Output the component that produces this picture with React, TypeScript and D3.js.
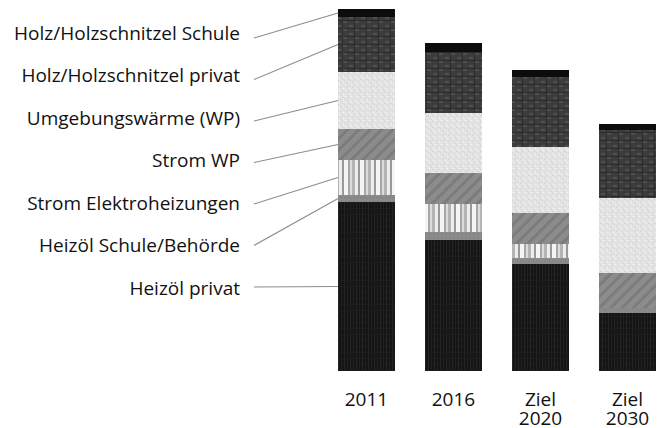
import { useEffect, useRef } from 'react';
import * as d3 from 'd3';

// Energieträger, von unten nach oben gestapelt
const categories = [
  'Heizöl privat',
  'Heizöl Schule/Behörde',
  'Strom Elektroheizungen',
  'Strom WP',
  'Umgebungswärme (WP)',
  'Holz/Holzschnitzel privat',
  'Holz/Holzschnitzel Schule',
];

const years = ['2011', '2016', 'Ziel 2020', 'Ziel 2030'];

const heizoelPrivat = [169, 131, 107, 58];
const heizoelSchule = [7, 8, 6, 5];
const stromElektro = [35, 28, 14, 0];
const stromWP = [31, 31, 31, 35];
const umgebung = [57, 60, 66, 75];
const holzPrivat = [55, 61, 70, 68];
const holzSchule = [8, 9, 7, 6];

const series = [heizoelPrivat, heizoelSchule, stromElektro, stromWP, umgebung, holzPrivat, holzSchule];
const patternIds = ['p-oel', 'p-oelschule', 'p-elektro', 'p-wp', 'p-umgebung', 'p-holz', 'p-holzschule'];

const W = 666;
const H = 428;
const FONT = '"Open Sans", "DejaVu Sans", sans-serif';

export default function App() {
  const svgRef = useRef<SVGSVGElement>(null);

  useEffect(() => {
    if (!svgRef.current) return;
    const svg = d3.select(svgRef.current);
    svg.selectAll('*').remove();

    const defs = svg.append('defs');

    // Heizöl privat: fast schwarz mit feinen senkrechten Linien
    const pOel = defs.append('pattern').attr('id', 'p-oel').attr('patternUnits', 'userSpaceOnUse')
      .attr('width', 6).attr('height', 6);
    pOel.append('rect').attr('width', 6).attr('height', 6).attr('fill', '#141414');
    pOel.append('rect').attr('x', 2).attr('width', 1).attr('height', 6).attr('fill', '#262626');
    pOel.append('rect').attr('x', 5).attr('width', 1).attr('height', 6).attr('fill', '#202020');
    pOel.append('rect').attr('y', 4).attr('width', 6).attr('height', 1).attr('fill', '#1d1d1d');

    const pOs = defs.append('pattern').attr('id', 'p-oelschule').attr('patternUnits', 'userSpaceOnUse')
      .attr('width', 4).attr('height', 4);
    pOs.append('rect').attr('width', 4).attr('height', 4).attr('fill', '#8a8a8a');
    pOs.append('rect').attr('x', 1).attr('y', 1).attr('width', 1).attr('height', 1).attr('fill', '#7a7a7a');

    // Strom Elektroheizungen: senkrechte Streifen
    const pEl = defs.append('pattern').attr('id', 'p-elektro').attr('patternUnits', 'userSpaceOnUse')
      .attr('width', 16).attr('height', 8);
    const stripes: [number, number, string][] = [
      [0, 3, '#b4b4b4'], [3, 3, '#ededed'], [6, 2, '#999999'], [8, 4, '#f5f5f5'], [12, 2, '#a8a8a8'], [14, 2, '#dcdcdc'],
    ];
    stripes.forEach(([x, w, c]) => {
      pEl.append('rect').attr('x', x).attr('width', w).attr('height', 8).attr('fill', c);
    });

    // Strom WP: mittelgrau, diagonal
    const pWp = defs.append('pattern').attr('id', 'p-wp').attr('patternUnits', 'userSpaceOnUse')
      .attr('width', 8).attr('height', 8).attr('patternTransform', 'rotate(45)');
    pWp.append('rect').attr('width', 8).attr('height', 8).attr('fill', '#8c8c8c');
    pWp.append('rect').attr('width', 3).attr('height', 8).attr('fill', '#7c7c7c');

    // Umgebungswärme: hellgrau gesprenkelt
    const pUm = defs.append('pattern').attr('id', 'p-umgebung').attr('patternUnits', 'userSpaceOnUse')
      .attr('width', 6).attr('height', 6);
    pUm.append('rect').attr('width', 6).attr('height', 6).attr('fill', '#e4e4e4');
    [[0, 1, '#c9c9c9'], [3, 0, '#f7f7f7'], [4, 3, '#cdcdcd'], [1, 4, '#f4f4f4'], [2, 2, '#d4d4d4'], [5, 5, '#d0d0d0']]
      .forEach(([x, y, c]) => {
        pUm.append('rect').attr('x', x).attr('y', y).attr('width', 1).attr('height', 1).attr('fill', c as string);
      });

    // Holz privat: dunkelgrau kariert
    const pHo = defs.append('pattern').attr('id', 'p-holz').attr('patternUnits', 'userSpaceOnUse')
      .attr('width', 12).attr('height', 8);
    pHo.append('rect').attr('width', 12).attr('height', 8).attr('fill', '#3c3c3c');
    pHo.append('rect').attr('x', 1).attr('y', 1).attr('width', 4).attr('height', 2).attr('fill', '#4f4f4f');
    pHo.append('rect').attr('x', 7).attr('y', 5).attr('width', 4).attr('height', 2).attr('fill', '#4f4f4f');
    pHo.append('rect').attr('y', 4).attr('width', 12).attr('height', 1).attr('fill', '#2c2c2c');
    pHo.append('rect').attr('x', 6).attr('width', 1).attr('height', 8).attr('fill', '#2e2e2e');

    const pHs = defs.append('pattern').attr('id', 'p-holzschule').attr('patternUnits', 'userSpaceOnUse')
      .attr('width', 4).attr('height', 4);
    pHs.append('rect').attr('width', 4).attr('height', 4).attr('fill', '#0c0c0c');

    const x = d3.scaleBand<string>().domain(years).range([338, 656]).paddingInner(0.345).paddingOuter(0);
    const y = d3.scaleLinear().domain([0, 362]).range([371, 9]);

    const rows = years.map((yr, i) => {
      const row: Record<string, number | string> = { year: yr };
      categories.forEach((c, k) => { row[c] = series[k][i]; });
      return row;
    });
    const stacked = d3.stack<Record<string, number | string>>().keys(categories)(rows);

    const g = svg.append('g');
    stacked.forEach((layer, k) => {
      g.append('g')
        .attr('fill', `url(#${patternIds[k]})`)
        .selectAll('rect')
        .data(layer)
        .join('rect')
        .attr('x', d => x(d.data.year as string)!)
        .attr('width', x.bandwidth())
        .attr('y', d => y(d[1]))
        .attr('height', d => y(d[0]) - y(d[1]));
    });

    // Beschriftung links mit Führungslinien zum ersten Balken
    const labelX = 240;
    const labelY = d3.scaleLinear().domain([0, categories.length - 1]).range([288, 33]);
    const lineY = d3.scaleLinear().domain([0, categories.length - 1]).range([287, 38]);
    const first = years[0];

    categories.forEach((c, k) => {
      const d = stacked[k][0];
      const mid = (y(d[0]) + y(d[1])) / 2;
      svg.append('line')
        .attr('x1', 254).attr('y1', lineY(k))
        .attr('x2', x(first)!).attr('y2', mid)
        .attr('stroke', '#8c8c8c').attr('stroke-width', 1.1);
      svg.append('text')
        .attr('x', labelX).attr('y', labelY(k))
        .attr('dy', '0.35em')
        .attr('text-anchor', 'end')
        .attr('font-family', FONT)
        .attr('font-size', 19)
        .attr('fill', '#111')
        .text(c);
    });

    // Jahreszahlen unter den Balken
    years.forEach(yr => {
      const cx = x(yr)! + x.bandwidth() / 2;
      yr.split(' ').forEach((p, i) => {
        svg.append('text')
          .attr('x', cx)
          .attr('y', 399 + i * 19)
          .attr('dy', '0.35em')
          .attr('text-anchor', 'middle')
          .attr('font-family', FONT)
          .attr('font-size', 19)
          .attr('fill', '#111')
          .text(p);
      });
    });
  }, []);

  return (
    <div style={{ position: 'fixed', left: 0, top: 0, width: W, height: H, background: '#fff' }}>
      <svg ref={svgRef} width={W} height={H} />
    </div>
  );
}
